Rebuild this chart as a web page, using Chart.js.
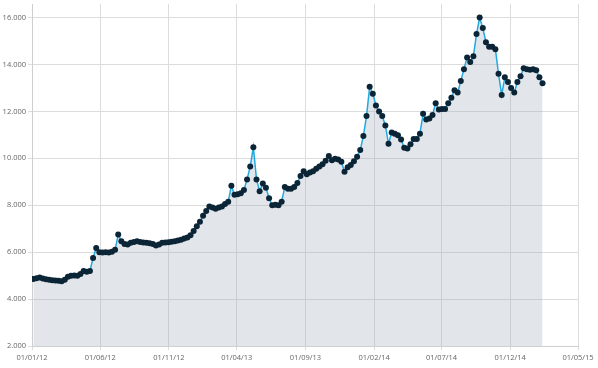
<!DOCTYPE html>
<html><head><meta charset="utf-8">
<style>html,body{margin:0;padding:0;background:#fff;}canvas{display:block;}</style>
<script src="https://cdn.jsdelivr.net/npm/chart.js@4.4.0/dist/chart.umd.min.js"></script>
</head><body>
<canvas id="c" width="598" height="368"></canvas>
<script>
const dates = [
"2012-01-04","2012-01-11","2012-01-18","2012-01-25","2012-02-01","2012-02-08","2012-02-15","2012-02-22","2012-02-29","2012-03-07","2012-03-14","2012-03-21","2012-03-28",
"2012-04-04","2012-04-11","2012-04-18","2012-04-25","2012-05-02","2012-05-09","2012-05-16","2012-05-23","2012-05-30","2012-06-06","2012-06-13","2012-06-20","2012-06-27",
"2012-07-04","2012-07-11","2012-07-18","2012-07-25","2012-08-01","2012-08-08","2012-08-15","2012-08-22","2012-08-29","2012-09-05","2012-09-12","2012-09-19","2012-09-26",
"2012-10-03","2012-10-10","2012-10-17","2012-10-24","2012-10-31","2012-11-07","2012-11-14","2012-11-21","2012-11-28","2012-12-05","2012-12-12","2012-12-19","2012-12-26",
"2013-01-02","2013-01-09","2013-01-16","2013-01-23","2013-01-30","2013-02-06","2013-02-13","2013-02-20","2013-02-27","2013-03-06","2013-03-13","2013-03-20","2013-03-27",
"2013-04-03","2013-04-10","2013-04-17","2013-04-24","2013-05-01","2013-05-08","2013-05-15","2013-05-22","2013-05-29","2013-06-05","2013-06-12","2013-06-19","2013-06-26",
"2013-07-03","2013-07-10","2013-07-17","2013-07-24","2013-07-31","2013-08-07","2013-08-14","2013-08-21","2013-08-28","2013-09-04","2013-09-11","2013-09-18","2013-09-25",
"2013-10-02","2013-10-09","2013-10-16","2013-10-23","2013-10-30","2013-11-06","2013-11-13","2013-11-20","2013-11-27","2013-12-04","2013-12-11","2013-12-18","2013-12-25",
"2014-01-01","2014-01-08","2014-01-15","2014-01-22","2014-01-29","2014-02-05","2014-02-12","2014-02-19","2014-02-26","2014-03-05","2014-03-12","2014-03-19","2014-03-26",
"2014-04-02","2014-04-09","2014-04-16","2014-04-23","2014-04-30","2014-05-07","2014-05-14","2014-05-21","2014-05-28","2014-06-04","2014-06-11","2014-06-18","2014-06-25",
"2014-07-02","2014-07-09","2014-07-16","2014-07-23","2014-07-30","2014-08-06","2014-08-13","2014-08-20","2014-08-27","2014-09-03","2014-09-10","2014-09-17","2014-09-24",
"2014-10-01","2014-10-08","2014-10-15","2014-10-22","2014-10-29","2014-11-05","2014-11-12","2014-11-19","2014-11-26","2014-12-03","2014-12-10","2014-12-17","2014-12-24","2014-12-31",
"2015-01-07","2015-01-14","2015-01-21","2015-01-28","2015-02-04","2015-02-11"
];
const values = [
4860,4890,4920,4880,4840,4820,4800,4790,4780,4760,4820,4950,4990,
5010,4990,5070,5200,5160,5200,5750,6180,6000,5990,6000,5980,6020,
6100,6750,6470,6350,6330,6400,6430,6470,6430,6410,6400,6380,6350,
6280,6330,6400,6410,6420,6440,6470,6500,6530,6580,6620,6720,6900,
7100,7300,7550,7750,7950,7900,7850,7900,7950,8050,8150,8830,8450,
8470,8510,8650,9100,9650,10470,9100,8600,8930,8750,8300,8000,8020,
8000,8150,8780,8700,8700,8780,8950,9250,9450,9320,9400,9450,9560,
9650,9750,9900,10100,9920,9980,9950,9850,9430,9620,9720,9870,10070,
10350,10950,11800,13050,12750,12250,12000,11800,11400,10620,11100,11050,10980,
10800,10450,10420,10600,10820,10820,11050,11900,11650,11700,11850,12350,12080,
12100,12100,12350,12580,12900,12800,13300,13800,14300,14100,14350,15300,16000,
15550,14950,14750,14750,14650,13600,12700,13450,13250,13000,12800,13250,13500,13840,
13800,13770,13800,13750,13450,13200
];
const xTickLabels = ["01/01/12","01/06/12","01/11/12","01/04/13","01/09/13","01/02/14","01/07/14","01/12/14","01/05/15"];
const yTickValues = [2000,4000,6000,8000,10000,12000,14000,16000];

const DAY = 86400000;
const BASE = Date.UTC(2012,0,1);
function isoToDay(s){const p=s.split('-').map(Number);return (Date.UTC(p[0],p[1]-1,p[2])-BASE)/DAY;}
function lblToDay(s){const p=s.split('/').map(Number);return (Date.UTC(2000+p[2],p[1]-1,p[0])-BASE)/DAY;}
function fmt(v){return String(v).replace(/\B(?=(\d{3})+(?!\d))/g,'.');}

const points = dates.map((d,i)=>({x:isoToDay(d),y:values[i]}));
const xTickPos = xTickLabels.map(lblToDay);
const FONT = {family:"'Open Sans', sans-serif", size:7.5};
const GRID = '#dcdcdc';

new Chart(document.getElementById('c'), {
  type:'line',
  data:{datasets:[{
    data:points,
    borderColor:'#22a9e0',
    borderWidth:1.5,
    backgroundColor:'rgba(160,172,190,0.3)',
    fill:'start',
    tension:0,
    pointRadius:3,
    pointBackgroundColor:'#0b2537',
    pointBorderColor:'#0b2537',
    pointBorderWidth:0
  }]},
  options:{
    responsive:false,
    animation:false,
    devicePixelRatio:1,
    layout:{padding:{top:0,right:20,bottom:5,left:0}},
    plugins:{legend:{display:false},tooltip:{enabled:false}},
    scales:{
      x:{
        type:'linear',
        min:lblToDay(xTickLabels[0]),
        max:lblToDay(xTickLabels[xTickLabels.length-1]),
        afterBuildTicks:s=>{s.ticks=xTickPos.map(v=>({value:v}));},
        afterFit:s=>{s.height=17;},
        ticks:{callback:(v,i)=>xTickLabels[i],autoSkip:false,maxRotation:0,padding:3,color:'#666',font:FONT},
        grid:{color:GRID,tickLength:4},
        border:{color:'#cfcfcf'}
      },
      y:{
        type:'linear',
        min:2000,
        max:16577,
        afterBuildTicks:s=>{s.ticks=yTickValues.map(v=>({value:v}));},
        afterFit:s=>{s.width=32;s.paddingTop=0;},
        ticks:{callback:(v)=>fmt(v),padding:2,color:'#666',font:FONT},
        grid:{color:GRID,tickLength:4},
        border:{color:'#cfcfcf'}
      }
    }
  }
});
</script>
</body></html>
